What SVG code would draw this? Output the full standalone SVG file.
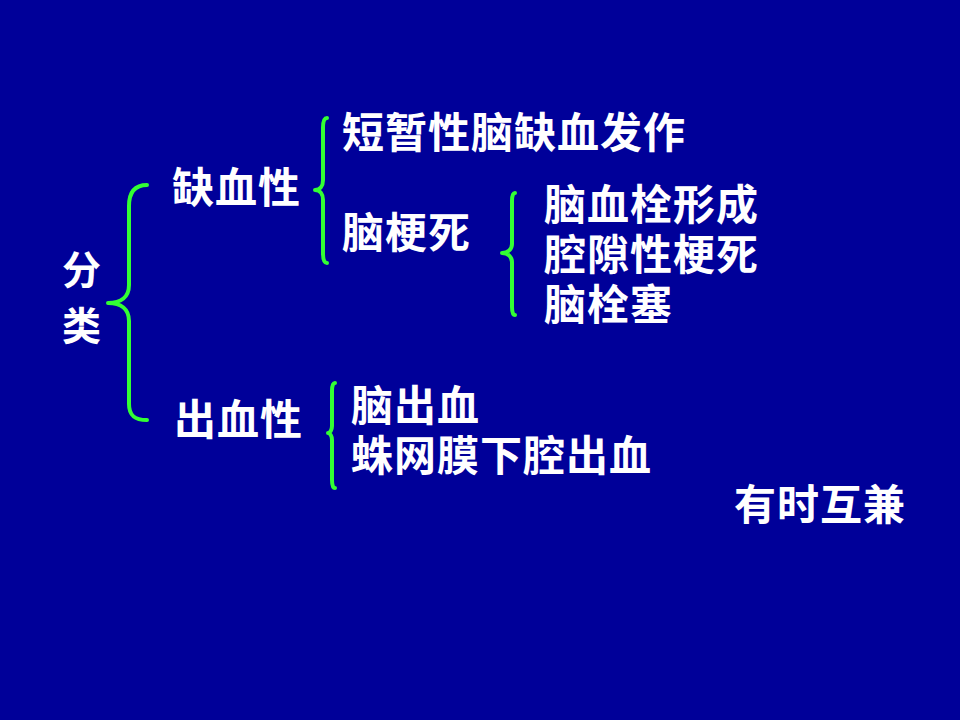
<svg xmlns="http://www.w3.org/2000/svg" width="960" height="720" viewBox="0 0 960 720">
<style>
.t{font-family:"Liberation Sans","Noto Sans CJK SC",sans-serif;font-weight:bold;font-size:42px;letter-spacing:1px;fill:#ffffff}
.b{fill:none;stroke:#33ff33;stroke-width:4;stroke-linecap:round;stroke-linejoin:round}
</style>
<rect width="960" height="720" fill="#000099"/>
<g id="connectors">
<path class="b" d="M147,185 C134,185 129,193 129,206 L129,285 C129,297 121,303 108,303 C121,303 129,309 129,321 L129,404 C129,415 134,420 147,420"/>
<path class="b" d="M327,118 C324,118 323,122 323,128 L323,180 C323,186 320,190 315,190 C320,190 323,194 323,200 L323,253 C323,259 324,263 327,263"/>
<path class="b" d="M515,193 C513,193 512,196 512,201 L512,244 C512,249 508,253 502,253 C508,253 512,257 512,262 L512,307 C512,312 513,315 515,315"/>
<path class="b" d="M335,383 C333,383 332,386 332,391 L332,426 C332,430 330,433 328,433 C330,433 332,436 332,440 L332,480 C332,485 333,488 335,488"/>
</g>
<g id="root"><text class="t" x="62" y="284" style="font-size:39px">分</text><text class="t" x="62" y="340" style="font-size:39px">类</text></g>
<g id="ischemic"><text class="t" x="172" y="203">缺血性</text></g>
<g id="hemorrhagic"><text class="t" x="174" y="435">出血性</text></g>
<g id="tia"><text class="t" x="342" y="148">短暂性脑缺血发作</text></g>
<g id="infarction"><text class="t" x="342" y="248">脑梗死</text></g>
<g id="thrombosis"><text class="t" x="544" y="220">脑血栓形成</text></g>
<g id="lacunar"><text class="t" x="544" y="270">腔隙性梗死</text></g>
<g id="embolism"><text class="t" x="544" y="320">脑栓塞</text></g>
<g id="ich"><text class="t" x="351" y="421">脑出血</text></g>
<g id="sah"><text class="t" x="351" y="471">蛛网膜下腔出血</text></g>
<g id="note"><text class="t" x="734" y="520">有时互兼</text></g>
</svg>
